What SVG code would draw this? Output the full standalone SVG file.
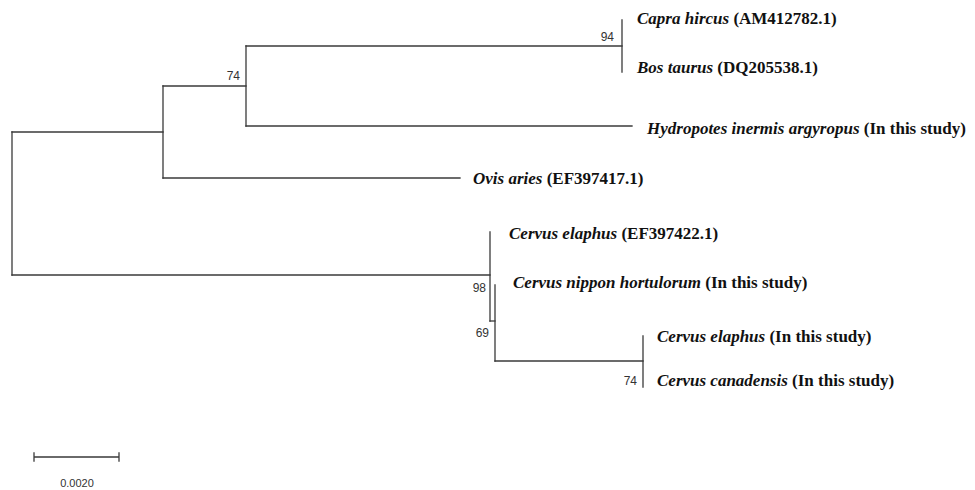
<svg xmlns="http://www.w3.org/2000/svg" width="975" height="490" viewBox="0 0 975 490">
  <style>
    .br { stroke: #3a3a3a; stroke-width: 1.3; fill: none; stroke-linecap: square; }
    .leaf { font-family: "Liberation Serif", "Times New Roman", serif; font-size: 17px; font-weight: bold; fill: #111; }
    .sp { font-style: italic; }
    .bs { font-family: "Liberation Sans", Arial, sans-serif; font-size: 12px; fill: #333; text-anchor: end; }
    .sc { font-family: "Liberation Sans", Arial, sans-serif; font-size: 11px; fill: #333; text-anchor: middle; }
  </style>
  <rect width="975" height="490" fill="#fff"/>

  <!-- tree branches -->
  <g id="connectors">
    <path class="br" d="M12,132 V275"/>
    <path class="br" d="M12,132 H163"/>
    <path class="br" d="M12,275 H490"/>
    <path class="br" d="M163,86 V178"/>
    <path class="br" d="M163,86 H246"/>
    <path class="br" d="M163,178 H460"/>
    <path class="br" d="M246,46 V126"/>
    <path class="br" d="M246,46 H622"/>
    <path class="br" d="M246,126 H632"/>
    <path class="br" d="M622,20 V72"/>
    <path class="br" d="M490,232 V321"/>
    <path class="br" d="M490,321 H495"/>
    <path class="br" d="M495,285 V361"/>
    <path class="br" d="M495,361 H643"/>
    <path class="br" d="M643,336 V387"/>
  </g>

  <!-- bootstrap support values -->
  <g id="support">
    <text class="bs" x="614" y="41">94</text>
    <text class="bs" x="240" y="80">74</text>
    <text class="bs" x="486" y="292">98</text>
    <text class="bs" x="489" y="337">69</text>
    <text class="bs" x="637" y="385">74</text>
  </g>

  <!-- taxa -->
  <g id="capra"><text class="leaf" x="637" y="24"><tspan class="sp">Capra hircus</tspan> (AM412782.1)</text></g>
  <g id="bos"><text class="leaf" x="637" y="73"><tspan class="sp">Bos taurus</tspan> (DQ205538.1)</text></g>
  <g id="hydropotes"><text class="leaf" x="647" y="134"><tspan class="sp">Hydropotes inermis argyropus</tspan> (In this study)</text></g>
  <g id="ovis"><text class="leaf" x="473" y="184"><tspan class="sp">Ovis aries</tspan> (EF397417.1)</text></g>
  <g id="cervus-elaphus-ef"><text class="leaf" x="509" y="239"><tspan class="sp">Cervus elaphus</tspan> (EF397422.1)</text></g>
  <g id="cervus-nippon"><text class="leaf" x="513" y="288"><tspan class="sp">Cervus nippon hortulorum</tspan> (In this study)</text></g>
  <g id="cervus-elaphus"><text class="leaf" x="657" y="342"><tspan class="sp">Cervus elaphus</tspan> (In this study)</text></g>
  <g id="cervus-canadensis"><text class="leaf" x="657" y="386"><tspan class="sp">Cervus canadensis</tspan> (In this study)</text></g>

  <!-- scale bar -->
  <g id="scale">
    <path class="br" d="M34,457 H119 M34,453 V461 M119,453 V461"/>
    <text class="sc" x="77" y="487">0.0020</text>
  </g>
</svg>
